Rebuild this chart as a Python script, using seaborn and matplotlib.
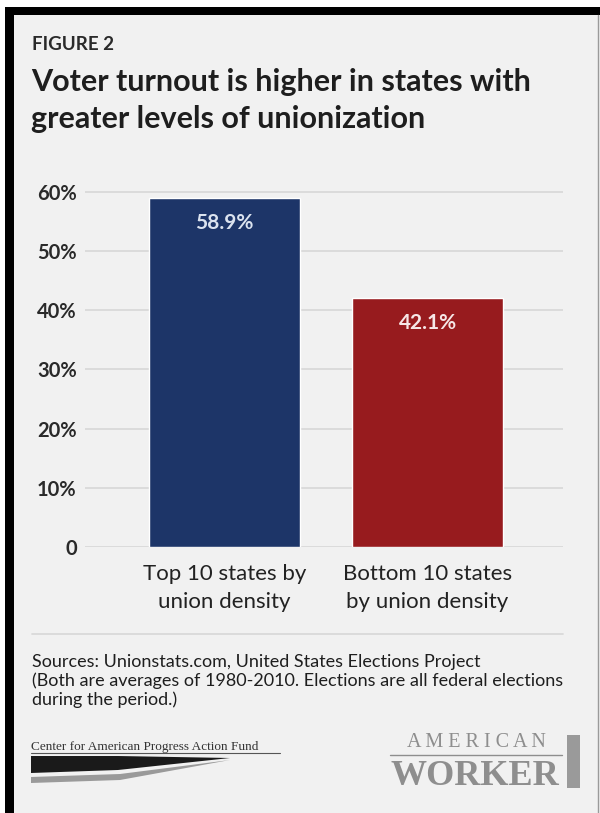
import matplotlib
matplotlib.use("Agg")
import matplotlib.pyplot as plt
from matplotlib.patches import Rectangle, Polygon
import seaborn as sns

# data
categories = ["Top 10 states by\nunion density", "Bottom 10 states\nby union density"]
turnout = [58.9, 42.1]
bar_colors = ["#1d3568", "#971b1e"]
ytick_values = [0, 10, 20, 30, 40, 50, 60]
ytick_labels = ["0", "10%", "20%", "30%", "40%", "50%", "60%"]

title_kicker = "FIGURE 2"
title_text = "Voter turnout is higher in states with\ngreater levels of unionization"
source_text = ("Sources: Unionstats.com, United States Elections Project\n"
               "(Both are averages of 1980-2010. Elections are all federal elections\n"
               "during the period.)")

BG = "#f1f1f1"
W, H = 600, 813

sns.set_theme(style="white")
plt.rcParams["font.family"] = ["Lato", "DejaVu Sans"]


def fx(px):
    return px / W


def fy(py):
    return 1 - py / H


fig = plt.figure(figsize=(6, 8.13), dpi=100, facecolor=BG)
ax = fig.add_axes([fx(85), fy(547), fx(563) - fx(85), fy(180) - fy(547)])
ax.set_facecolor(BG)

sns.barplot(x=categories, y=turnout, hue=categories, palette=bar_colors,
            width=0.74, saturation=1, legend=False, ax=ax, zorder=3)

ax.set_xlim(-0.687, 1.667)
ax.set_ylim(0, 62)
ax.set_yticks(ytick_values)
ax.set_yticklabels(ytick_labels)
ax.yaxis.grid(True, color="#d9d9d9", lw=1.3, zorder=0)
ax.set_axisbelow(True)
ax.tick_params(axis="y", length=0, pad=6, labelsize=14.5, labelcolor="#2a2a2a")
ax.tick_params(axis="x", length=0, pad=12, labelsize=16, labelcolor="#222222")
for lab in ax.get_yticklabels():
    lab.set_fontweight("bold")
for lab in ax.get_xticklabels():
    lab.set_linespacing(1.55)
sns.despine(ax=ax, left=True, bottom=True)
ax.set_xlabel("")
ax.set_ylabel("")

# value labels inside the bar tops
label_colors = ["#dbe3ef", "#f6e6e6"]
for i, v in enumerate(turnout):
    ax.annotate(f"{v}%", (i, v), xytext=(0, -18), textcoords="offset points",
                ha="center", va="center", fontsize=15, fontweight="bold",
                color=label_colors[i], zorder=5)

# titles
fig.text(fx(32), fy(44), title_kicker, fontsize=13.5, fontweight="bold",
         color="#2a2a2a", va="center", ha="left")
fig.text(fx(31), fy(68), title_text, fontsize=22, fontweight="bold",
         color="#1e1e1e", va="top", ha="left", linespacing=1.4)

# separator and source note
fig.add_artist(plt.Line2D([fx(32), fx(563)], [fy(634), fy(634)], color="#d9d9d9", lw=1.3))
fig.text(fx(32), fy(654), source_text, fontsize=13, color="#1e1e1e",
         va="top", ha="left", linespacing=1.17)

# left logo (Center for American Progress Action Fund)
fig.text(fx(31), fy(747), "Center for American Progress Action Fund", fontsize=9.5,
         family="Liberation Serif", color="#333333", va="center", ha="left")
fig.add_artist(plt.Line2D([fx(31), fx(280)], [fy(753), fy(753)], color="#555555", lw=0.8))
fig.add_artist(Polygon([(fx(31), fy(756)), (fx(118), fy(756)), (fx(230), fy(758)),
                        (fx(118), fy(770)), (fx(31), fy(773))],
                       closed=True, facecolor="#1a1a1a", edgecolor="none"))
fig.add_artist(Polygon([(fx(31), fy(777)), (fx(120), fy(774)), (fx(230), fy(760)),
                        (fx(120), fy(780)), (fx(31), fy(783))],
                       closed=True, facecolor="#9a9a9a", edgecolor="none"))

# right logo (American Worker)
fig.text(fx(476), fy(742), "A M E R I C A N", fontsize=14.5, family="Liberation Serif",
         color="#8e8e8e", va="center", ha="center")
fig.add_artist(plt.Line2D([fx(390), fx(562)], [fy(755), fy(755)], color="#8e8e8e", lw=1))
fig.text(fx(475), fy(776), "WORKER", fontsize=26, family="Liberation Serif",
         fontweight="bold", color="#8e8e8e", va="center", ha="center")
fig.add_artist(Rectangle((fx(567), fy(788)), fx(13), fy(735) - fy(788),
                         facecolor="#9a9a9a", edgecolor="none"))

# frame: black top and left bands, thin grey right edge
fig.add_artist(Rectangle((0, fy(15)), 1, fy(7) - fy(15), facecolor="black", edgecolor="none"))
fig.add_artist(Rectangle((fx(5), 0), fx(9), fy(7), facecolor="black", edgecolor="none"))
fig.add_artist(Rectangle((0, fy(7)), 1, 1 - fy(7), facecolor="white", edgecolor="none"))
fig.add_artist(Rectangle((0, 0), fx(5), 1, facecolor="white", edgecolor="none"))
fig.add_artist(plt.Line2D([fx(598), fx(598)], [0, fy(15)], color="#9a9a9a", lw=1))

fig.savefig("out.png", dpi=100, facecolor=BG)
